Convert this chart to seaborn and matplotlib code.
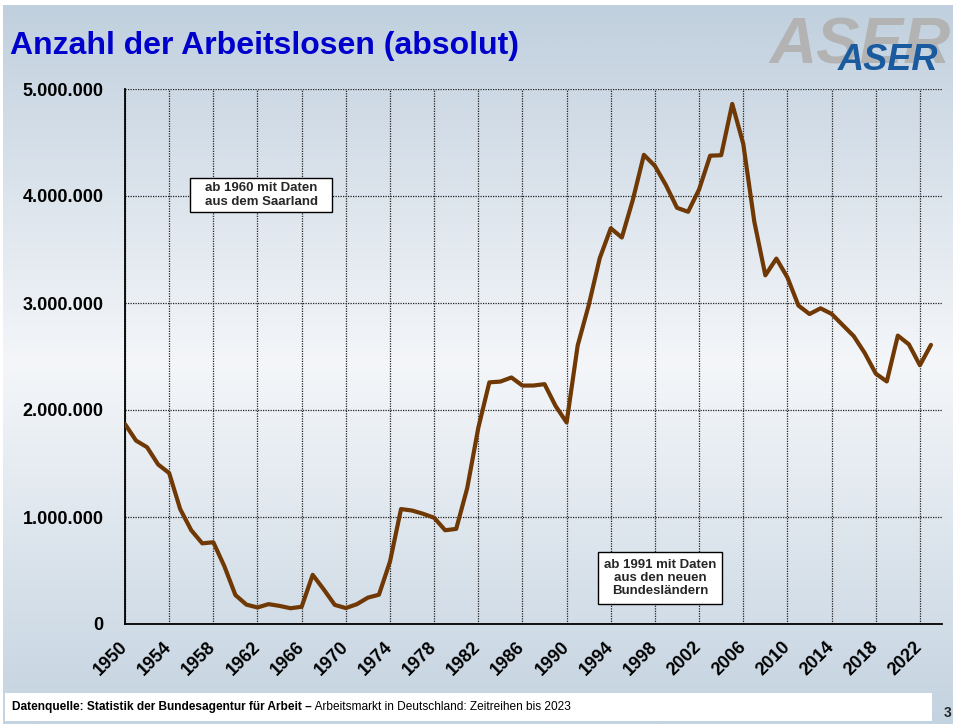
import numpy as np
import pandas as pd
import matplotlib
matplotlib.use('Agg')
import matplotlib.pyplot as plt
from matplotlib import font_manager
from matplotlib.colors import LinearSegmentedColormap
from matplotlib.patches import Rectangle
from matplotlib.ticker import FuncFormatter, MultipleLocator
import seaborn as sns

# -----------------------------------------------------------
# DATA (Arbeitslose, Jahresdurchschnitt)
# -----------------------------------------------------------

years = list(range(1950, 2024))

unemployed = [
    1868504, 1713894, 1651948, 1490948, 1410700, 1073576, 876287, 753708,
    763893, 539942, 270678, 180855, 154523, 185646, 169059, 147352,
    161059, 459489, 323480, 178579, 148846, 185072, 246433, 273498,
    582481, 1074217, 1060336, 1029995, 992948, 876137, 888900, 1271574,
    1833244, 2258235, 2265559, 2304014, 2228004, 2228788, 2241556, 2037781,
    1883147, 2602203, 2978570, 3419141, 3698057, 3611921, 3965064, 4384456,
    4280630, 4100499, 3889695, 3852564, 4061345, 4376769, 4381040, 4860909,
    4487305, 3760586, 3258954, 3414992, 3238965, 2975823, 2896985, 2950338,
    2898388, 2794664, 2690975, 2532837, 2340082, 2266720, 2695444, 2613489,
    2418133, 2608672,
]

tick_years = list(range(1950, 2023, 4))

TITLE = "Anzahl der Arbeitslosen (absolut)"
NOTE_SAAR = "ab 1960 mit Daten\naus dem Saarland"
NOTE_OST = "ab 1991 mit Daten\naus den neuen\nBundesländern"
SOURCE_BOLD = "Datenquelle: Statistik der Bundesagentur für Arbeit \u2013"
SOURCE_TEXT = " Arbeitsmarkt in Deutschland: Zeitreihen bis 2023"

df = pd.DataFrame({"Jahr": years, "Arbeitslose": unemployed})

# -----------------------------------------------------------
# STYLE
# -----------------------------------------------------------

sns.set_theme(style="white")
plt.rcParams['font.family'] = ['Liberation Sans', 'DejaVu Sans']

# narrow font for title / logo if it is there
font_names = {f.name for f in font_manager.fontManager.ttflist}
if 'Liberation Sans Narrow' in font_names:
    head_family = ['Liberation Sans Narrow', 'Liberation Sans']
    title_size, logo_big, logo_small = 28, 58, 32
else:
    head_family = ['Liberation Sans', 'DejaVu Sans']
    title_size, logo_big, logo_small = 23, 47, 26

fig = plt.figure(figsize=(9.54, 7.24), dpi=100)
fig.patch.set_facecolor('white')

# background gradient (slide style)
bg = fig.add_axes([3 / 954, 0, 1 - 3 / 954, 1 - 5 / 724], zorder=0)
grad_cmap = LinearSegmentedColormap.from_list(
    'slide', [(0.0, '#c1d0de'), (0.5, '#f4f6f9'), (1.0, '#c4d3e0')]
)
bg.imshow(np.linspace(0, 1, 256).reshape(-1, 1), aspect='auto',
          cmap=grad_cmap, extent=[0, 1, 0, 1], origin='upper')
bg.set_axis_off()

# -----------------------------------------------------------
# CHART
# -----------------------------------------------------------

ax = fig.add_axes([125 / 954, 100 / 724, 817 / 954, 535 / 724], zorder=2)
ax.patch.set_alpha(0)

sns.lineplot(data=df, x="Jahr", y="Arbeitslose", ax=ax,
             color='#6f3804', linewidth=3, zorder=5)

ax.set_xlim(1950, 2024)
ax.set_ylim(0, 5000000)
ax.set_xticks(tick_years)
ax.yaxis.set_major_locator(MultipleLocator(1000000))
ax.yaxis.set_major_formatter(
    FuncFormatter(lambda v, p: f"{int(v):,}".replace(",", "."))
)
ax.set_xlabel("")
ax.set_ylabel("")

ax.grid(True, color='#222222', linestyle=(0, (1, 1)), linewidth=0.9)
for s in ['top', 'right']:
    ax.spines[s].set_visible(False)
for s in ['left', 'bottom']:
    ax.spines[s].set_color('black')
    ax.spines[s].set_linewidth(1.3)

ax.tick_params(axis='both', direction='inout', length=7, width=1.2,
               color='black', labelcolor='black', labelsize=13)
ax.tick_params(axis='y', pad=12)
ax.tick_params(axis='x', pad=11)
for lbl in ax.get_yticklabels():
    lbl.set_fontweight('bold')
for lbl in ax.get_xticklabels():
    lbl.set_fontweight('bold')
    lbl.set_rotation(45)
    lbl.set_ha('right')
    lbl.set_va('center')
    lbl.set_rotation_mode('anchor')

# note boxes (axes fractions)
ax.add_patch(Rectangle((0.0796, 0.770), 0.1738, 0.0636, transform=ax.transAxes,
                       facecolor='white', edgecolor='black', linewidth=1,
                       zorder=6))
ax.text(0.1665, 0.802, NOTE_SAAR, transform=ax.transAxes, ha='center',
        va='center', fontsize=9.5, fontweight='bold', zorder=7,
        linespacing=1.15)
ax.add_patch(Rectangle((0.579, 0.0374), 0.1517, 0.0972, transform=ax.transAxes,
                       facecolor='white', edgecolor='black', linewidth=1,
                       zorder=6))
ax.text(0.655, 0.086, NOTE_OST, transform=ax.transAxes, ha='center',
        va='center', fontsize=9.5, fontweight='bold', zorder=7,
        linespacing=1.15)

# -----------------------------------------------------------
# TITLE, LOGO, FOOTER
# -----------------------------------------------------------

fig.text(10 / 954, 1 - 46 / 724, TITLE, color='#0000cc', fontsize=title_size,
         fontweight='bold', family=head_family, ha='left', va='center',
         zorder=3)

fig.text(860 / 954, 1 - 47 / 724, "ASER", color='#b3b3b3', fontsize=logo_big,
         fontweight='bold', fontstyle='italic', family=head_family,
         ha='center', va='center', zorder=3)
fig.text(888 / 954, 1 - 60 / 724, "ASER", color='#1a5a9e',
         fontsize=logo_small, fontweight='bold', fontstyle='italic',
         family=head_family, ha='center', va='center', zorder=4)

footer = fig.add_axes([5 / 954, 3 / 724, 927 / 954, 28 / 724], zorder=3)
footer.set_facecolor('white')
footer.set_xticks([])
footer.set_yticks([])
for s in footer.spines.values():
    s.set_visible(False)

t1 = footer.text(7 / 927, 0.5, SOURCE_BOLD, fontsize=8.6, fontweight='bold',
                 ha='left', va='center', color='black')
fig.canvas.draw()
bb = t1.get_window_extent().transformed(footer.transAxes.inverted())
footer.text(bb.x1, 0.5, SOURCE_TEXT, fontsize=8.6, ha='left', va='center',
            color='black')

fig.text(948 / 954, 1 - 713 / 724, "3", fontsize=10, fontweight='bold',
         ha='center', va='center', zorder=3)

plt.savefig('out.png', dpi=100)
